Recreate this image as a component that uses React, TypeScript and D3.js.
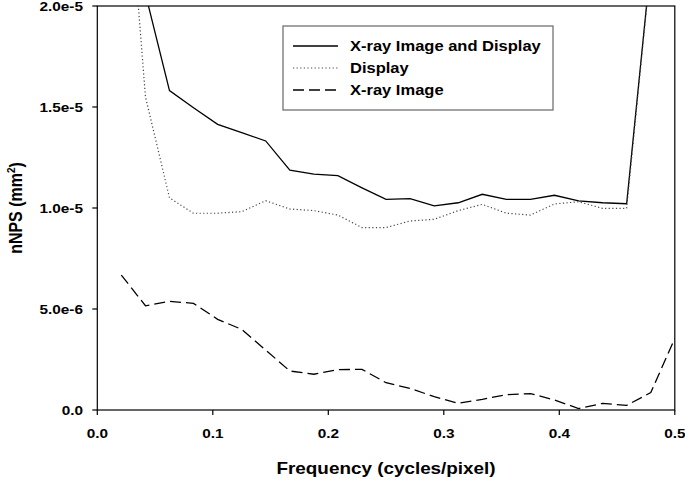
import React from "react";
import * as d3 from "d3";

const freq = [0.0208, 0.0417, 0.0625, 0.0833, 0.1042, 0.125, 0.1458, 0.1667, 0.1875, 0.2083, 0.2292, 0.25, 0.2708, 0.2917, 0.3125, 0.3333, 0.3542, 0.375, 0.3958, 0.4167, 0.4375, 0.4583, 0.4792, 0.5];
const xrayAndDisplay = [30.0, 20.6, 15.81, 14.96, 14.14, 13.73, 13.32, 11.87, 11.68, 11.6, 11.0, 10.43, 10.46, 10.11, 10.26, 10.68, 10.43, 10.43, 10.63, 10.35, 10.26, 10.21, 22.1, 30.0];
const display = [30.7, 15.5, 10.5, 9.74, 9.74, 9.82, 10.36, 9.95, 9.87, 9.65, 9.03, 9.03, 9.36, 9.44, 9.87, 10.18, 9.74, 9.65, 10.2, 10.31, 9.98, 9.98, 22.0, 30.0];
const xrayImage = [6.68, 5.16, 5.38, 5.28, 4.49, 3.99, 2.97, 1.93, 1.77, 2.0, 2.01, 1.35, 1.07, 0.66, 0.33, 0.53, 0.76, 0.81, 0.5, 0.07, 0.33, 0.23, 0.86, 3.55];
const seriesNames = ["X-ray Image and Display", "Display", "X-ray Image"];
const xTicks = [0, 0.1, 0.2, 0.3, 0.4, 0.5];
const xTickLabels = ["0.0", "0.1", "0.2", "0.3", "0.4", "0.5"];
const yTicks = [0, 5e-6, 1e-5, 1.5e-5, 2e-5];
const yTickLabels = ["0.0", "5.0e-6", "1.0e-5", "1.5e-5", "2.0e-5"];

const SX = 1.18;
const FONT = "Liberation Sans, Arial, sans-serif";

export default function App() {
  const x = d3.scaleLinear().domain([0, 0.5]).range([97.3, 674.8]);
  const y = d3.scaleLinear().domain([0, 2e-5]).range([410, 6]);
  const mk = (vals: number[]) =>
    d3.line<number>().x((_, i) => x(freq[i])).y((v) => y(v * 1e-6))(vals) || "";

  const styles = [
    { d: mk(xrayAndDisplay), dash: undefined, color: "#000", w: 1.3 },
    { d: mk(display), dash: "1.2,2.4", color: "#444", w: 1.2 },
    { d: mk(xrayImage), dash: "11,5", color: "#000", w: 1.3 },
  ];
  const [x0, x1] = x.range();
  const [yb, yt] = y.range();

  return (
    <svg width={685} height={478} style={{ position: "absolute", left: 0, top: 0, background: "#fff" }}>
      <defs>
        <clipPath id="plot">
          <rect x={x0} y={yt} width={x1 - x0} height={yb - yt} />
        </clipPath>
      </defs>
      <rect x={0} y={0} width={685} height={478} fill="#fff" />
      <g clipPath="url(#plot)">
        {styles.map((s, i) => (
          <path key={i} d={s.d} fill="none" stroke={s.color} strokeWidth={s.w} strokeDasharray={s.dash} />
        ))}
      </g>
      {/* frame */}
      <rect x={x0} y={yt} width={x1 - x0} height={yb - yt} fill="none" stroke="#000" strokeWidth={1.2} />
      {/* x ticks */}
      {xTicks.map((t, i) => (
        <g key={"xt" + i}>
          <line x1={x(t)} x2={x(t)} y1={yb} y2={yb + 5} stroke="#000" strokeWidth={1.2} />
          <text transform={`translate(${x(t)},438) scale(${SX},1)`} textAnchor="middle" fontFamily={FONT} fontWeight="bold" fontSize={13}>
            {xTickLabels[i]}
          </text>
        </g>
      ))}
      {/* y ticks */}
      {yTicks.map((t, i) => (
        <g key={"yt" + i}>
          <line x1={x0 - 5} x2={x0} y1={y(t)} y2={y(t)} stroke="#000" strokeWidth={1.2} />
          <text transform={`translate(83,${y(t) + 4.7}) scale(${SX},1)`} textAnchor="end" fontFamily={FONT} fontWeight="bold" fontSize={13}>
            {yTickLabels[i]}
          </text>
        </g>
      ))}
      {/* axis titles */}
      <text transform={`translate(${(x0 + x1) / 2},474) scale(${SX},1)`} textAnchor="middle" fontFamily={FONT} fontWeight="bold" fontSize={16}>
        Frequency (cycles/pixel)
      </text>
      <text transform={`translate(22,${(yb + yt) / 2}) rotate(-90) scale(1,${SX})`} textAnchor="middle" fontFamily={FONT} fontWeight="bold" fontSize={16}>
        nNPS (mm<tspan dy={-6} fontSize={10}>2</tspan><tspan dy={6}>)</tspan>
      </text>
      {/* legend */}
      <rect x={283} y={26} width={270} height={84} fill="#fff" stroke="#666" strokeWidth={1.2} />
      {seriesNames.map((n, i) => {
        const cy = 46 + i * 22;
        const s = styles[i];
        return (
          <g key={"lg" + i}>
            <line x1={293} x2={338} y1={cy} y2={cy} stroke={s.color} strokeWidth={s.w} strokeDasharray={s.dash} />
            <text transform={`translate(350,${cy + 5}) scale(${SX},1)`} fontFamily={FONT} fontWeight="bold" fontSize={14}>
              {n}
            </text>
          </g>
        );
      })}
    </svg>
  );
}
